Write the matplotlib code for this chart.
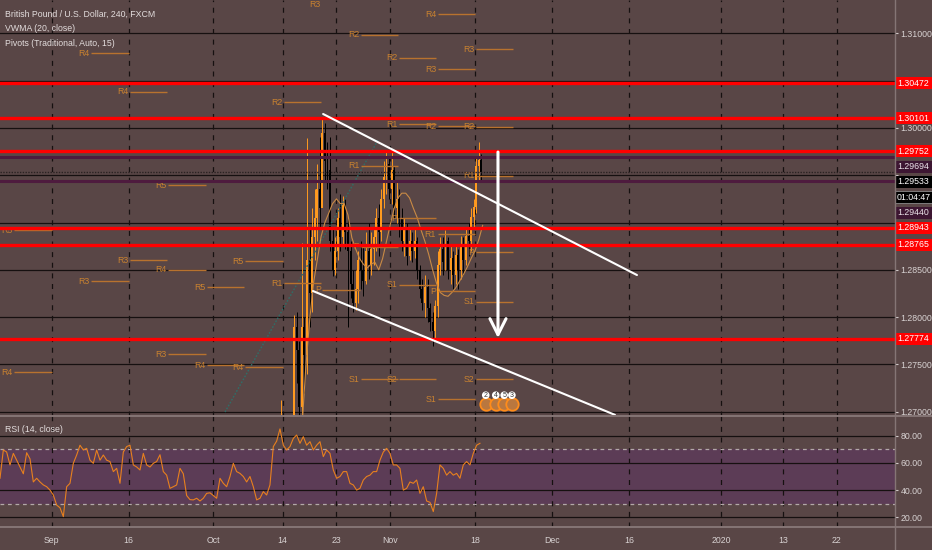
import matplotlib
matplotlib.use('Agg')
import matplotlib.pyplot as plt
import matplotlib.transforms as mtransforms
from matplotlib.patches import Rectangle
from matplotlib.lines import Line2D
from matplotlib import font_manager as fm

# ------------------------------------------------------------------ data
# x axis = trading-day index, 0 = Mon 2 Sep 2019 (weekends skipped)
tick_days = [0, 10, 21, 30, 37, 44, 55, 65, 75, 87, 95, 102]
tick_labels = ['Sep', '16', 'Oct', '14', '23', 'Nov', '18', 'Dec', '16', '2020', '13', '22']

price_ticks = [1.270, 1.275, 1.280, 1.285, 1.290, 1.295, 1.300, 1.305, 1.310]
rsi_ticks = [20, 40, 60, 80]

# GBPUSD candles (8h resolution), first bar starts Fri 11 Oct (day 29)
candle_start_day = 29.0
candle_step = 1.0 / 3.0
first_open = 1.2500
closes = [1.2560, 1.2640, 1.2670, 1.2650, 1.2625, 1.2620, 1.2655, 1.2790, 1.2765, 1.2705,
          1.2790, 1.2760, 1.2860, 1.2825, 1.2885, 1.2905, 1.2935, 1.2915, 1.2995, 1.2965,
          1.2955, 1.2880, 1.2850, 1.2870, 1.2905, 1.2885, 1.2918, 1.2890, 1.2870, 1.2835,
          1.2815, 1.2830, 1.2860, 1.2850, 1.2838, 1.2870, 1.2855, 1.2872, 1.2885, 1.2905,
          1.2890, 1.2925, 1.2948, 1.2962, 1.2935, 1.2955, 1.2915, 1.2925, 1.2905, 1.2880,
          1.2895, 1.2865, 1.2880, 1.2870, 1.2880, 1.2850, 1.2830, 1.2815, 1.2832, 1.2810,
          1.2795, 1.2785, 1.2812, 1.2855, 1.2872, 1.2858, 1.2880, 1.2850, 1.2862, 1.2845,
          1.2866, 1.2850, 1.2876, 1.2860, 1.2886, 1.2880, 1.2906, 1.2916, 1.2960, 1.2966,
          1.29533]
highs = [1.2610, 1.2665, 1.2712, 1.2690, 1.2665, 1.2650, 1.2680, 1.2802, 1.2805, 1.2775,
         1.2878, 1.2800, 1.2989, 1.2895, 1.2915, 1.2935, 1.2962, 1.2990, 1.3012, 1.3005,
         1.2985, 1.2990, 1.2895, 1.2885, 1.2915, 1.2930, 1.2928, 1.2925, 1.2905, 1.2880,
         1.2850, 1.2850, 1.2870, 1.2880, 1.2875, 1.2890, 1.2900, 1.2890, 1.2895, 1.2915,
         1.2920, 1.2935, 1.2965, 1.2976, 1.2970, 1.2975, 1.2960, 1.2945, 1.2935, 1.2915,
         1.2905, 1.2900, 1.2895, 1.2890, 1.2895, 1.2885, 1.2855, 1.2840, 1.2845, 1.2840,
         1.2815, 1.2805, 1.2818, 1.2870, 1.2885, 1.2885, 1.2892, 1.2885, 1.2875, 1.2870,
         1.2876, 1.2872, 1.2886, 1.2885, 1.2895, 1.2900, 1.2915, 1.2925, 1.2970, 1.2985,
         1.2972]
lows = [1.2490, 1.2545, 1.2620, 1.2630, 1.2600, 1.2595, 1.2610, 1.2640, 1.2730, 1.2680,
        1.2690, 1.2720, 1.2740, 1.2790, 1.2805, 1.2860, 1.2880, 1.2895, 1.2950, 1.2945,
        1.2935, 1.2870, 1.2843, 1.2845, 1.2860, 1.2870, 1.2875, 1.2872, 1.2790, 1.2820,
        1.2805, 1.2808, 1.2815, 1.2830, 1.2822, 1.2835, 1.2840, 1.2845, 1.2855, 1.2870,
        1.2865, 1.2880, 1.2915, 1.2930, 1.2925, 1.2920, 1.2905, 1.2900, 1.2885, 1.2870,
        1.2865, 1.2855, 1.2860, 1.2858, 1.2862, 1.2840, 1.2820, 1.2808, 1.2800, 1.2795,
        1.2785, 1.2770, 1.2775, 1.2800, 1.2845, 1.2845, 1.2850, 1.2840, 1.2835, 1.2830,
        1.2835, 1.2830, 1.2840, 1.2845, 1.2855, 1.2865, 1.2870, 1.2895, 1.2910, 1.2945,
        1.2945]

# VWMA (20, close), sampled every half trading day from day 32.5
vwma_start_day = 32.5
vwma_step = 0.5
vwma = [1.2680, 1.2745, 1.2795, 1.2835, 1.2860, 1.2885, 1.2900, 1.2910, 1.2920, 1.2925,
        1.2920, 1.2920, 1.2908, 1.2884, 1.2872, 1.2862, 1.2856, 1.2852, 1.2856, 1.2858,
        1.2850, 1.2862, 1.2880, 1.2898, 1.2915, 1.2926, 1.2931, 1.2931, 1.2926, 1.2915,
        1.2905, 1.2892, 1.2880, 1.2866, 1.2850, 1.2836, 1.2826, 1.2823, 1.2822, 1.2826,
        1.2831, 1.2838, 1.2845, 1.2853, 1.2862, 1.2870, 1.2882, 1.2897]

# RSI (14, close)
rsi_start_day = -6.718
rsi_step = 0.4331
rsi = [48.7, 69.5, 68.0, 58.5, 67.0, 62.0, 57.0, 52.0, 67.5, 63.0,
       46.0, 48.7, 46.0, 43.8, 42.5, 40.0, 36.4, 29.0, 27.0, 20.5,
       42.5, 45.0, 59.7, 65.8, 73.0, 69.5, 70.7, 62.0, 59.7, 69.5,
       62.0, 65.8, 62.0, 61.0, 53.6, 56.0, 45.0, 68.0, 72.0, 73.0,
       58.5, 57.0, 54.8, 67.0, 58.5, 57.0, 59.7, 61.0, 66.0, 53.6,
       51.0, 41.3, 42.5, 43.8, 56.0, 52.0, 36.0, 33.0, 32.8, 34.0,
       32.0, 34.0, 37.6, 38.0, 36.0, 34.0, 48.7, 45.0, 42.5, 50.0,
       59.7, 53.6, 52.3, 50.0, 46.0, 50.0, 42.5, 32.8, 34.0, 38.9,
       36.4, 43.8, 72.0, 76.0, 85.0, 73.0, 69.5, 72.0, 78.0, 80.5,
       74.4, 79.3, 73.0, 75.6, 69.5, 73.0, 75.6, 64.6, 69.5, 67.0,
       54.8, 48.7, 50.0, 53.6, 53.6, 45.0, 43.8, 40.0, 41.3, 47.4,
       50.0, 51.0, 53.6, 53.6, 62.0, 68.0, 70.7, 67.0, 58.5, 58.5,
       56.0, 40.0, 41.3, 46.0, 45.0, 47.4, 37.6, 42.5, 32.0, 31.0,
       24.2, 37.6, 58.5, 56.0, 51.0, 53.6, 51.0, 52.3, 48.7, 58.5,
       61.0, 58.5, 67.0, 73.0, 74.4]

# weekly traditional pivots: week index (week w = days 5w..5w+5), level, price
pivot_weeks = [-1, -1, 1, 1, 2, 2, 3, 3, 3, 4, 4, 5, 5, 6, 6, 7, 7,
               8, 8, 8, 8, 9, 9, 9, 9, 9, 10, 10, 10, 10, 10, 10,
               11, 11, 11, 11, 11, 11]
pivot_names = ['R5', 'R4', 'R4', 'R3', 'R4', 'R3', 'R5', 'R4', 'R3', 'R5', 'R4', 'R5', 'R4', 'R2', 'R1', 'R3', 'P',
               'R2', 'R1', 'P', 'S1', 'R2', 'R1', 'P', 'S1', 'S2', 'R4', 'R3', 'R2', 'R1', 'P', 'S1',
               'R3', 'R2', 'R1', 'P', 'S1', 'S2']
pivot_prices = [1.28918, 1.27420, 1.30789, 1.28378, 1.30383, 1.28600, 1.29393, 1.28501, 1.27607,
                1.28315, 1.27490, 1.28590, 1.27472, 1.30271, 1.28357, 1.31390, 1.28290,
                1.30985, 1.29600, 1.28744, 1.27346, 1.30742, 1.30038, 1.29044, 1.28343, 1.27346,
                1.31204, 1.30619, 1.30020, 1.28875, 1.28276, 1.27134,
                1.30831, 1.30013, 1.29492, 1.28685, 1.28163, 1.27342]

red_levels = [1.30472, 1.30101, 1.29752, 1.28943, 1.28765, 1.27774]
purple_levels = [1.29694, 1.29440]
last_price = 1.29533
countdown = '01:04:47'

upper_trend_days = [35.27, 76.05]
upper_trend_prices = [1.30147, 1.28445]
lower_trend_days = [33.95, 73.19]
lower_trend_prices = [1.28276, 1.26967]
teal_days = [22.52, 42.40]
teal_prices = [1.26997, 1.29872]
arrow_day = 57.99
arrow_from = 1.29745
arrow_to = 1.27779

event_days = [56.4, 57.7, 58.8, 59.8]
event_labels = ['2', '4', '5', '3']

legend_lines = ['British Pound / U.S. Dollar, 240, FXCM', 'VWMA (20, close)',
                'Pivots (Traditional, Auto, 15)']
rsi_title = 'RSI (14, close)'

# ------------------------------------------------------------------ style
names = {f.name for f in fm.fontManager.ttflist}
FONT = 'Liberation Sans Narrow' if 'Liberation Sans Narrow' in names else 'Liberation Sans'
plt.rcParams['font.family'] = [FONT, 'DejaVu Sans']
FS = 6.3

BG = '#594646'
BAND = '#5c3c56'
TXT = '#d8d2d2'
GRID = '#161010'
SEP = '#857575'
ORANGE = '#ff9a1f'
PIV_LINE = '#b8722e'
PIV_TXT = '#c98230'

W, H, DPI = 932, 550, 100
PLOT_R = 895
MAIN_B = 416
RSI_B = 527

X0, X1 = -6.718, 109.58
Y0, Y1 = 1.26955, 1.31352
R0, R1 = 12.87, 94.49

fig = plt.figure(figsize=(W / DPI, H / DPI), dpi=DPI, facecolor=BG)
ax = fig.add_axes([0, 1 - MAIN_B / H, PLOT_R / W, MAIN_B / H], facecolor=BG)
axr = fig.add_axes([0, 1 - RSI_B / H, PLOT_R / W, (RSI_B - MAIN_B) / H])
axr.patch.set_alpha(0.0)

for a in (ax, axr):
    a.set_xlim(X0, X1)
    for s in a.spines.values():
        s.set_visible(False)
    for d in tick_days:
        a.axvline(d, color=GRID, lw=0.9, ls=(0, (4, 4.5)), zorder=0.6)
ax.set_ylim(Y0, Y1)
axr.set_ylim(R0, R1)

ppp = MAIN_B / (Y1 - Y0)  # pixels per price unit

# ---- main pane grid
for p in price_ticks:
    ax.axhline(p, color=GRID, lw=0.9, zorder=0.5)

# ---- candles
n = len(closes)
opens = [first_open] + closes[:-1]
xs = [candle_start_day + (i + 0.5) * candle_step for i in range(n)]
cols = [ORANGE if c >= o else '#000000' for o, c in zip(opens, closes)]
ax.vlines(xs, lows, highs, colors=cols, lw=0.7, zorder=2)
ax.bar(xs, [max(abs(c - o), 0.00008) for o, c in zip(opens, closes)],
       bottom=[min(o, c) for o, c in zip(opens, closes)],
       width=candle_step * 0.75, color=cols, linewidth=0, zorder=2.1)

# ---- VWMA
ax.plot([vwma_start_day + i * vwma_step for i in range(len(vwma))], vwma,
        color='#c98a45', lw=0.8, zorder=3)

# ---- teal dotted drawing
ax.plot(teal_days, teal_prices, color='#2f6e68', lw=1.0, ls=(0, (1.2, 1.2)), zorder=2.5)

# ---- pivots
label_top = Y1 - 5.0 / ppp   # keep labels fully inside the pane
for w, nm, p in zip(pivot_weeks, pivot_names, pivot_prices):
    xa, xb = 5 * w + 0.15, 5 * w + 5
    ax.hlines(p, xa, xb, color=PIV_LINE, lw=1.0, zorder=3)
    ax.text(xa - 0.2, min(p, label_top), nm, ha='right', va='center', color=PIV_TXT,
            fontsize=FS, zorder=3, clip_on=True)

# ---- horizontal levels
for p in red_levels:
    ax.axhline(p, color='#ff0000', lw=2.4, zorder=4)
for p in purple_levels:
    ax.axhline(p, color='#4e1b3e', lw=2.2, zorder=4)
ax.axhline(last_price, color='#2a2222', lw=1.0, ls=(0, (1, 1)), zorder=4)

# ---- drawings
ax.plot(upper_trend_days, upper_trend_prices, color='white', lw=1.5, zorder=5,
        solid_capstyle='round')
ax.plot(lower_trend_days, lower_trend_prices, color='white', lw=1.5, zorder=5,
        solid_capstyle='round')
ax.annotate('', xy=(arrow_day, arrow_to), xytext=(arrow_day, arrow_from),
            arrowprops=dict(arrowstyle='->,head_length=1.15,head_width=0.58',
                            color='white', lw=2.2, mutation_scale=10,
                            shrinkA=0, shrinkB=0), zorder=6)

# ---- event icons
tr_ev = mtransforms.blended_transform_factory(ax.transData, ax.transAxes)
ax.scatter(event_days, [0.029] * len(event_days), s=80, transform=tr_ev,
           facecolor='#b9773f', edgecolor='#ff8c1a', lw=1.3, zorder=6, clip_on=False)
ax.scatter(event_days, [0.05] * len(event_days), s=30, transform=tr_ev,
           facecolor='white', edgecolor='none', zorder=7, clip_on=False)
for d, lab in zip(event_days, event_labels):
    ax.text(d, 0.05, lab, transform=tr_ev, ha='center', va='center', fontsize=5,
            color='#333333', zorder=8)

# ---- right-hand price labels (stacked to avoid overlap)
items = [(p, 'red') for p in red_levels] + [(p, 'purple') for p in purple_levels] + \
        [(last_price, 'last')]
items.sort(key=lambda t: -t[0])
gap = 15.3 / ppp
placed = []
prev = None
for p, kind in items:
    y = p if prev is None else min(p, prev - gap)
    placed.append((y, f'{p:.5f}', kind))
    prev = y
    if kind == 'last':
        prev = prev - gap
        placed.append((prev, countdown, 'timer'))

box_style = {'red': ('#ff0000', 'white', 'none'),
             'purple': ('#3d1632', '#ece4ea', 'none'),
             'last': ('#000000', 'white', 'none'),
             'timer': ('#000000', 'white', '#8a8a8a')}
tr_r = mtransforms.blended_transform_factory(ax.transAxes, ax.transData)
xr = (W - 0.5) / PLOT_R
bh = 12.0 / ppp
for y, lab, kind in placed:
    fc, tc, ec = box_style[kind]
    ax.add_patch(Rectangle((1.0, y - bh / 2), xr - 1.0, bh, transform=tr_r,
                           facecolor=fc, edgecolor=ec, lw=0.6, clip_on=False, zorder=10))
    ax.text((1.0 + xr) / 2, y, lab, transform=tr_r, ha='center', va='center',
            color=tc, fontsize=FS, clip_on=False, zorder=11)

ax.yaxis.tick_right()
ax.set_yticks(price_ticks)
ax.set_yticklabels(['' if any(abs(p - y) * ppp < 9 for y, _, _ in placed) else f'{p:.5f}'
                    for p in price_ticks])
ax.tick_params(axis='y', length=2.5, width=0.8, color='#cfc8c8', pad=1.5,
               labelsize=FS, labelcolor=TXT)
ax.tick_params(axis='x', length=0, labelbottom=False)

# ---- RSI pane
axr.axhspan(30, 70, color=BAND, zorder=0.3, lw=0)
for v in rsi_ticks:
    axr.axhline(v, color=GRID, lw=0.9, zorder=0.5)
for v in (30, 70):
    axr.axhline(v, color='#b3a8a8', lw=0.9, ls=(0, (3, 3)), zorder=0.7)
axr.plot([rsi_start_day + i * rsi_step for i in range(len(rsi))], rsi,
         color='#e8801e', lw=0.8, zorder=3)
axr.yaxis.tick_right()
axr.set_yticks(rsi_ticks)
axr.set_yticklabels([f'{v:.2f}' for v in rsi_ticks])
axr.tick_params(axis='y', length=2.5, width=0.8, color='#cfc8c8', pad=1.5,
                labelsize=FS, labelcolor=TXT)
axr.set_xticks(tick_days)
axr.set_xticklabels(tick_labels)
axr.tick_params(axis='x', length=0, pad=6.5, labelsize=FS, labelcolor=TXT)

# ---- legends
for i, t in enumerate(legend_lines):
    fig.text(5 / W, 1 - (14 + 14.5 * i) / H, t, ha='left', va='center',
             color='#e2dcdc', fontsize=FS)
fig.text(5 / W, 1 - 430 / H, rsi_title, ha='left', va='center',
         color='#e2dcdc', fontsize=FS)

# ---- pane separators
fig.add_artist(Line2D([0, 1], [1 - MAIN_B / H] * 2, transform=fig.transFigure,
                      color=SEP, lw=1.4))
fig.add_artist(Line2D([0, 1], [1 - RSI_B / H] * 2, transform=fig.transFigure,
                      color=SEP, lw=1.4))
fig.add_artist(Line2D([PLOT_R / W] * 2, [0, 1], transform=fig.transFigure,
                      color=SEP, lw=1.0))

fig.savefig('out.png', dpi=DPI, facecolor=BG)
